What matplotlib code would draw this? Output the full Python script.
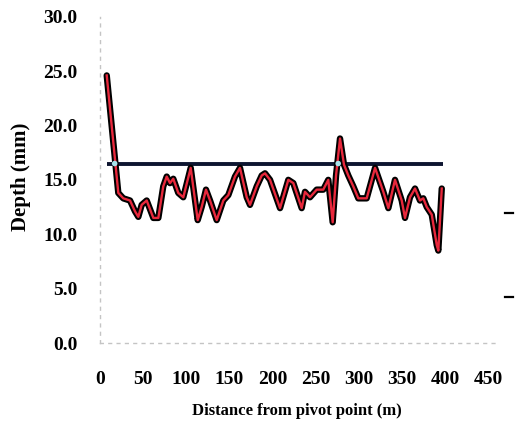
import numpy as np
import matplotlib.pyplot as plt
from matplotlib.lines import Line2D

# depth profile along the span
distance = [7.8, 21.2, 27.0, 34.8, 40.6, 44.4, 48.3, 54.1, 61.8, 67.6,
            73.3, 77.3, 81.1, 84.9, 90.7, 96.5, 105.1, 113.2, 117.8, 122.8,
            127.5, 135.2, 142.9, 148.7, 156.4, 162.2, 170.0, 173.8, 181.6, 187.4,
            191.2, 197.0, 208.6, 218.2, 224.0, 233.7, 237.5, 243.3, 251.1, 258.7,
            264.5, 269.6, 273.5, 278.1, 282.7, 287.7, 293.5, 299.3, 309.0, 318.7,
            328.3, 334.1, 341.8, 349.6, 353.4, 359.2, 365.0, 370.8, 374.6, 378.6,
            384.4, 390.2, 392.0, 396.0]
depth = [24.6, 13.8, 13.3, 13.1, 12.1, 11.6, 12.7, 13.1, 11.5, 11.5,
         14.4, 15.3, 14.7, 15.1, 13.8, 13.4, 16.1, 11.3, 12.5, 14.1,
         13.1, 11.3, 13.1, 13.6, 15.3, 16.1, 13.4, 12.7, 14.4, 15.4,
         15.6, 15.0, 12.4, 15.0, 14.7, 12.4, 13.9, 13.4, 14.1, 14.1,
         15.0, 11.1, 15.4, 18.8, 16.4, 15.4, 14.4, 13.3, 13.3, 16.1,
         13.9, 12.4, 15.0, 13.1, 11.5, 13.4, 14.2, 13.1, 13.3, 12.5,
         11.8, 9.0, 8.5, 14.2]

# average depth line
avg_x = [7.8, 397.5]
avg_depth = [16.5, 16.5]
cross_x = [17.0, 276.0]

x_ticks = [0, 50, 100, 150, 200, 250, 300, 350, 400, 450]
y_ticks = [0, 5, 10, 15, 20, 25, 30]

plt.rcParams['font.family'] = ['Liberation Serif', 'DejaVu Serif']
plt.rcParams['font.weight'] = 'bold'

fig = plt.figure(figsize=(5.15, 4.29), dpi=100)
ax = fig.add_axes([100 / 515, 1 - 343 / 429, 397 / 515, (343 - 16.7) / 429])

ax.plot(avg_x, avg_depth, color='#0d1530', lw=2.8, solid_capstyle='butt', zorder=2)
ax.plot(distance, depth, color='black', lw=4.6, solid_joinstyle='round',
        solid_capstyle='round', zorder=3)
ax.plot(distance, depth, color='#e8283c', lw=1.7, solid_joinstyle='round', zorder=4)
ax.scatter(cross_x, [16.5, 16.5], s=16, color='#a8e4ec', edgecolors='none', zorder=5)

ax.set_xlim(0, 460)
ax.set_ylim(0, 30)
ax.set_xticks(x_ticks)
ax.set_yticks(y_ticks)
ax.set_yticklabels([f'{v:.1f}' for v in y_ticks])
ax.tick_params(axis='both', length=0, labelsize=14)
ax.tick_params(axis='x', pad=20)
ax.tick_params(axis='y', pad=16)
for lab in ax.get_xticklabels() + ax.get_yticklabels():
    lab.set_fontweight('bold')

for side in ['top', 'right']:
    ax.spines[side].set_visible(False)
for side in ['left', 'bottom']:
    ax.spines[side].set_color('#c4c4c4')
    ax.spines[side].set_linestyle((0, (2, 4)))
    ax.spines[side].set_linewidth(1.0)

ax.set_xlabel('Distance from pivot point (m)', fontsize=12, fontweight='bold')
ax.set_ylabel('Depth (mm)', fontsize=15, fontweight='bold')
ax.xaxis.set_label_coords(0.496, -0.185)
ax.yaxis.set_label_coords(-0.173, 0.509)

# two short dashes at the right margin
for yy in [213, 297]:
    fig.add_artist(Line2D([505 / 515, 513 / 515], [1 - yy / 429, 1 - yy / 429],
                          color='black', lw=1.6))

fig.savefig('out.png', dpi=100)
